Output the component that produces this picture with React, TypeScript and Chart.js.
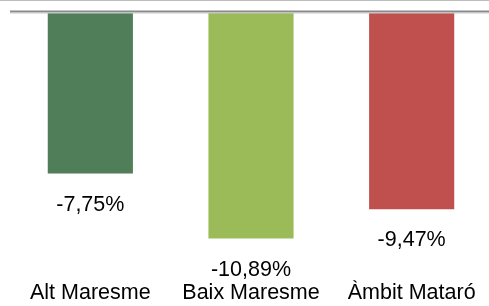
import React, { useEffect, useRef } from "react";
import { Chart, registerables } from "chart.js";

Chart.register(...registerables);

const categories = ["Alt Maresme", "Baix Maresme", "Àmbit Mataró"];
const values = [-7.75, -10.89, -9.47];
const barColors = ["#4f7e59", "#9bbb59", "#c0504d"];
const valueLabels = values.map((v) => v.toFixed(2).replace(".", ",") + "%");

const FONT = '"Liberation Sans", Arial, sans-serif';
const FONT_SIZE = 21.5;

const decorPlugin = {
  id: "decor",
  afterDatasetsDraw(chart: any) {
    const ctx = chart.ctx;
    const area = chart.chartArea;
    const y0 = chart.scales.y.getPixelForValue(0);
    ctx.save();
    // outer top border
    ctx.fillStyle = "#bdbdbd";
    ctx.fillRect(0, 0, chart.width, 1);
    // zero line
    ctx.fillStyle = "#8a8a8e";
    ctx.fillRect(area.left, y0 - 2.5, chart.width - area.left, 2);
    ctx.fillStyle = "#c8c8c8";
    ctx.fillRect(area.left, y0 - 0.5, chart.width - area.left, 1);
    // value labels
    const meta = chart.getDatasetMeta(0);
    ctx.fillStyle = "#000";
    ctx.font = `${FONT_SIZE}px ${FONT}`;
    ctx.textAlign = "center";
    ctx.textBaseline = "alphabetic";
    meta.data.forEach((el: any, i: number) => {
      ctx.fillText(valueLabels[i], el.x, el.y + 37);
    });
    ctx.restore();
  },
};

export default function App() {
  const ref = useRef<HTMLCanvasElement | null>(null);
  useEffect(() => {
    if (!ref.current) return;
    const chart = new Chart(ref.current, {
      type: "bar",
      data: {
        labels: categories,
        datasets: [
          {
            data: values,
            backgroundColor: barColors,
            borderWidth: 0,
            barPercentage: 0.53,
            categoryPercentage: 1,
          },
        ],
      },
      options: {
        responsive: false,
        animation: false,
        layout: { padding: { left: 10, top: 13, right: 0, bottom: 0 } },
        plugins: { legend: { display: false }, tooltip: { enabled: false } },
        scales: {
          y: { display: false, min: -12.9, max: 0 },
          x: {
            grid: { display: false, drawTicks: false },
            border: { display: false },
            ticks: {
              padding: 0,
              color: "#000",
              font: { family: FONT, size: FONT_SIZE },
              maxRotation: 0,
              autoSkip: false,
            },
          },
        },
      },
      plugins: [decorPlugin],
    });
    return () => chart.destroy();
  }, []);
  return (
    <div
      style={{
        position: "fixed",
        left: 0,
        top: 0,
        width: 489,
        height: 306,
        overflow: "hidden",
        background: "#fff",
      }}
    >
      <canvas ref={ref} width={492} height={306} style={{ display: "block" }} />
    </div>
  );
}
